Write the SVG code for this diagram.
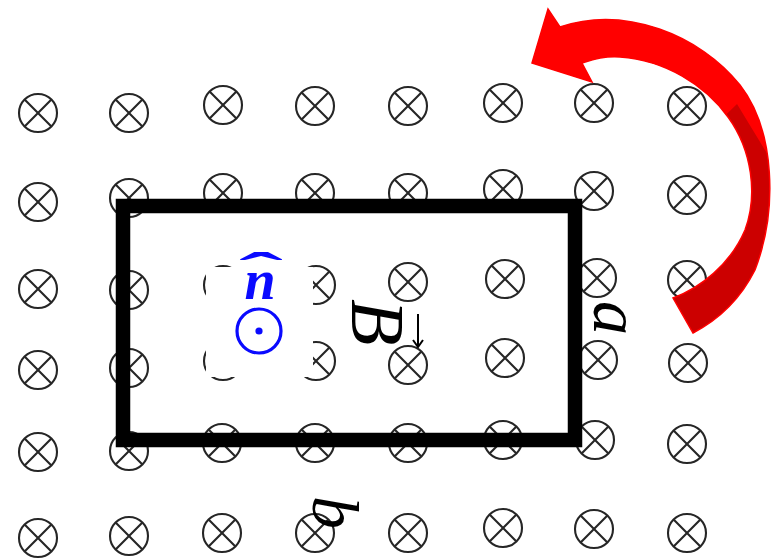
<svg xmlns="http://www.w3.org/2000/svg" width="771" height="560" viewBox="0 0 771 560">
<style>
.ot{fill:none;stroke:#262626;stroke-width:2.1}
.lbl{font-family:"Liberation Serif","Times New Roman",serif;font-style:italic;fill:#000}
.blue{fill:#0a0aff}
</style>
<defs>
<g id="otimes">
<circle class="ot" cx="0" cy="0" r="19"/>
<path class="ot" d="M-13.4,-13.4L13.4,13.4M13.4,-13.4L-13.4,13.4"/>
</g>
<path id="arrowBody" d="M560,27 C625,5 700,35 740,85 C775,130 778,210 755,270 C740,300 718,320 693,333 L673,298 C700,288 730,265 745,230 C758,195 752,150 728,117 C705,85 665,60 620,57 C605,56 595,59 582,63 L592,82 L532,63 L548,9 Z"/>
<clipPath id="upper"><polygon points="500,0 771,0 771,160 737,104 700,140 500,140"/></clipPath>
</defs>
<rect width="771" height="560" fill="#fff"/>
<g id="field">
<use href="#otimes" x="38" y="113"/><use href="#otimes" x="129" y="113"/><use href="#otimes" x="223" y="105"/><use href="#otimes" x="315" y="106"/><use href="#otimes" x="408" y="106"/><use href="#otimes" x="503" y="103"/><use href="#otimes" x="594" y="103"/><use href="#otimes" x="687" y="106"/>
<use href="#otimes" x="38" y="202"/><use href="#otimes" x="129" y="198"/><use href="#otimes" x="223" y="193"/><use href="#otimes" x="315" y="193"/><use href="#otimes" x="408" y="193"/><use href="#otimes" x="503" y="189"/><use href="#otimes" x="594" y="191"/><use href="#otimes" x="687" y="195"/>
<use href="#otimes" x="38" y="289"/><use href="#otimes" x="129" y="290"/><use href="#otimes" x="223" y="285"/><use href="#otimes" x="316" y="285"/><use href="#otimes" x="408" y="282"/><use href="#otimes" x="505" y="279"/><use href="#otimes" x="597" y="278"/><use href="#otimes" x="687" y="280"/>
<use href="#otimes" x="38" y="370"/><use href="#otimes" x="129" y="368"/><use href="#otimes" x="223" y="361"/><use href="#otimes" x="316" y="361"/><use href="#otimes" x="408" y="365"/><use href="#otimes" x="505" y="358"/><use href="#otimes" x="598" y="360"/><use href="#otimes" x="688" y="363"/>
<use href="#otimes" x="38" y="452"/><use href="#otimes" x="129" y="451"/><use href="#otimes" x="222" y="443"/><use href="#otimes" x="315" y="443"/><use href="#otimes" x="408" y="443"/><use href="#otimes" x="503" y="440"/><use href="#otimes" x="595" y="440"/><use href="#otimes" x="687" y="444"/>
<use href="#otimes" x="38" y="538"/><use href="#otimes" x="129" y="536"/><use href="#otimes" x="222" y="533"/><use href="#otimes" x="315" y="533"/><use href="#otimes" x="408" y="533"/><use href="#otimes" x="503" y="528"/><use href="#otimes" x="594" y="529"/><use href="#otimes" x="687" y="533"/>
</g>
<g id="loop">
<rect x="123" y="206" width="452" height="234" fill="none" stroke="#000" stroke-width="14.5"/>
</g>
<g id="normal">
<rect x="206" y="267" width="107" height="110" fill="#fff"/>
<text class="blue" font-family="Liberation Serif,serif" font-weight="bold"><tspan x="260" y="299" text-anchor="middle" font-style="italic" font-size="56">n</tspan><tspan x="239" y="287" font-size="48" textLength="44" lengthAdjust="spacingAndGlyphs">ˆ</tspan></text>
<circle cx="259" cy="331" r="22" fill="none" stroke="#0a0aff" stroke-width="3.2"/>
<circle cx="259" cy="331" r="3.6" class="blue"/>
</g>
<g id="labels">
<text class="lbl" font-size="76" transform="translate(352,299) rotate(90)">B</text>
<path d="M418,314L418,347M413,340L418,347L423,340" fill="none" stroke="#000" stroke-width="2"/>
<text class="lbl" font-size="68" transform="translate(594,301) rotate(90)">a</text>
<text class="lbl" font-size="66" transform="translate(313,496) rotate(90)">b</text>
</g>
<g id="connectors">
<use href="#arrowBody" fill="#cc0000" stroke="#ff0000" stroke-width="1.5"/>
<use href="#arrowBody" fill="#ff0000" clip-path="url(#upper)"/>
</g>
</svg>
